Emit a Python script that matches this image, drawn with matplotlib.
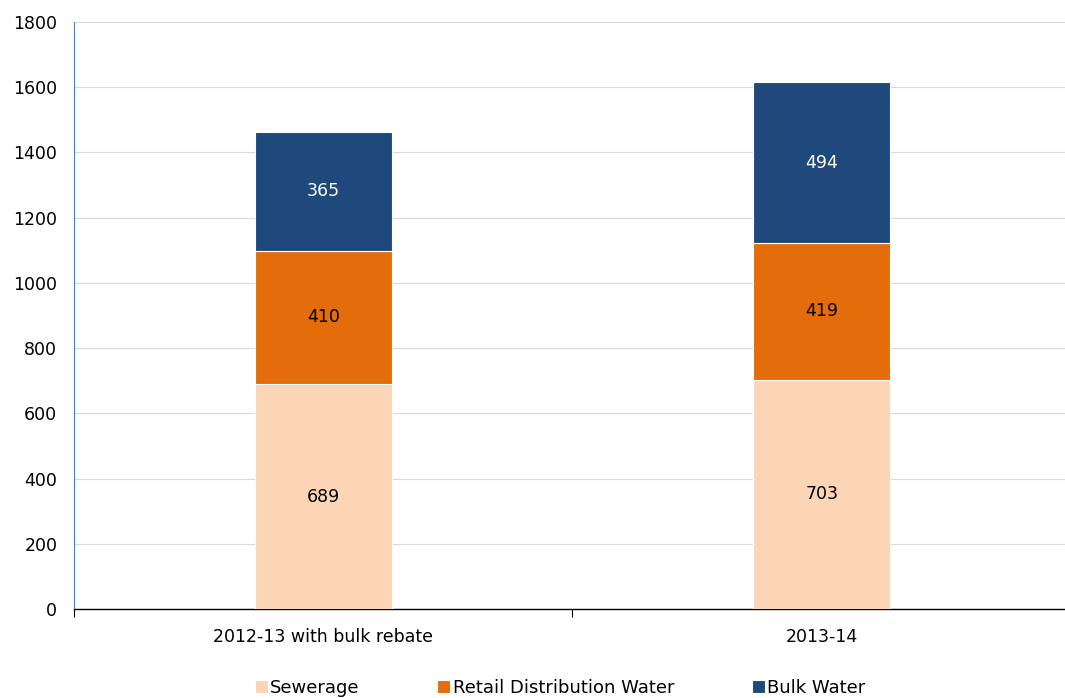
import matplotlib.pyplot as plt
import numpy as np

categories = ["2012-13 with bulk rebate", "2013-14"]
sewerage = [689, 703]
retail = [410, 419]
bulk = [365, 494]

series = ["Sewerage", "Retail Distribution Water", "Bulk Water"]
colors = ["#FBD5B5", "#E46C0A", "#1F497D"]
text_colors = ["black", "black", "white"]

fig = plt.figure(figsize=(10.65, 6.98), dpi=100)
ax = fig.add_axes([0.0695, 0.1275, 0.936, 0.841])

x = np.arange(len(categories))
bottom = np.zeros(len(categories))
handles = []
for vals, c, tc, name in zip([sewerage, retail, bulk], colors, text_colors, series):
    bars = ax.bar(x, vals, 0.275, bottom=bottom, color=c, label=name,
                  edgecolor="white", linewidth=0.8, zorder=3)
    for xi, b, v in zip(x, bottom, vals):
        ax.text(xi, b + v / 2, str(v), ha="center", va="center", color=tc,
                fontsize=12.5, zorder=4)
    bottom += np.array(vals)
    handles.append(bars)

ax.set_xlim(-0.5, 1.5)
ax.set_ylim(0, 1800)
ax.set_yticks(np.arange(0, 1801, 200))
ax.grid(axis="y", color="#D9D9D9", linewidth=0.8, zorder=0)

# category separators as ticks
ax.set_xticks([-0.5, 0.5, 1.5])
ax.set_xticklabels([])
ax.set_xticks(x, minor=True)
ax.set_xticklabels(categories, minor=True, fontsize=12.5)
ax.tick_params(axis="x", which="minor", length=0, pad=14)
ax.tick_params(axis="x", which="major", length=6, direction="out", color="black")
ax.tick_params(axis="y", length=0, labelsize=12.5, pad=12)

for s in ["top", "right"]:
    ax.spines[s].set_visible(False)
ax.spines["left"].set_color("#4F81BD")
ax.spines["left"].set_linewidth(0.8)
ax.spines["bottom"].set_color("black")
ax.spines["bottom"].set_linewidth(1.0)

fig.legend(handles=handles, labels=series, loc="lower center", ncol=3,
           bbox_to_anchor=(0.526, -0.022), frameon=False, fontsize=13,
           handlelength=0.7, handleheight=0.7, handletextpad=0.15,
           columnspacing=4.3)

fig.savefig("out.png", dpi=100)
